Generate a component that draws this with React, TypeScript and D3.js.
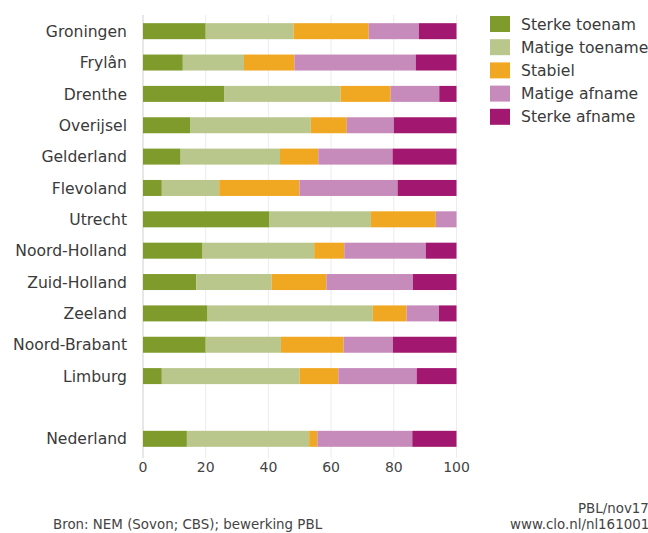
import React from "react";
import * as d3 from "d3";

const regions = [
  "Groningen", "Frylân", "Drenthe", "Overijsel", "Gelderland", "Flevoland",
  "Utrecht", "Noord-Holland", "Zuid-Holland", "Zeeland", "Noord-Brabant", "Limburg", "", "Nederland",
];
const seriesNames = ["Sterke toenam", "Matige toename", "Stabiel", "Matige afname", "Sterke afname"];
const colors = ["#7e9b2b", "#b9c68c", "#f0a823", "#c68abb", "#a2176f"];

const sterkeToename = [20, 12.7, 26, 15, 12, 6, 40.2, 19, 17, 20.6, 20, 6, 0, 14];
const matigeToename = [28, 19.5, 37, 38.5, 31.7, 18.3, 32.5, 35.6, 24, 52.7, 24, 43.9, 0, 39];
const stabiel = [24, 16.1, 16, 11.5, 12.2, 25.6, 20.7, 9.6, 17.5, 10.8, 20, 12.4, 0, 2.6];
const matigeAfname = [16, 38.7, 15.5, 15, 23.7, 31.3, 6.6, 26, 27.6, 10.3, 15.7, 25, 0, 30.3];
const sterkeAfname = [12, 13, 5.5, 20, 20.4, 18.8, 0, 9.8, 13.9, 5.6, 20.3, 12.7, 0, 14.1];
const ticks = [0, 20, 40, 60, 80, 100];

const W = 648, H = 533;
const FONT = "'DejaVu Sans', sans-serif";

export default function App() {
  const x = d3.scaleLinear().domain([0, 100]).range([143, 456.5]);
  const y = d3.scaleBand<number>().domain(regions.map((_, i) => i)).range([15.5, 454.5]).paddingInner(0.49).paddingOuter(0.245);
  const table = regions.map((r, i) => ({
    r,
    s0: sterkeToename[i], s1: matigeToename[i], s2: stabiel[i], s3: matigeAfname[i], s4: sterkeAfname[i],
  }));
  const stack = d3.stack<any>().keys(["s0", "s1", "s2", "s3", "s4"])(table);

  return (
    <svg width={W} height={H} style={{ position: "absolute", left: 0, top: 0, background: "#fff" }} fontFamily={FONT}>
      {ticks.map((t) => (
        <line key={t} x1={x(t)} x2={x(t)} y1={15} y2={458} stroke={t === 0 ? "#cfcfcf" : "#ececec"} strokeWidth={1} />
      ))}
      {stack.map((s, si) => (
        <g key={si} fill={colors[si]}>
          {s.map((d, i) =>
            regions[i] === "" || d[1] - d[0] <= 0 ? null : (
              <rect key={i} x={x(d[0])} y={y(i)} width={x(d[1]) - x(d[0])} height={y.bandwidth()} />
            )
          )}
        </g>
      ))}
      {regions.map((r, i) => (
        <text key={i} x={127} y={(y(i) as number) + y.bandwidth() / 2} dy="0.36em" textAnchor="end" fontSize={15.6} fill="#3a3a3a">
          {r}
        </text>
      ))}
      {ticks.map((t) => (
        <text key={t} x={x(t)} y={472} textAnchor="middle" fontSize={14} fill="#444">
          {t}
        </text>
      ))}
      {seriesNames.map((n, i) => (
        <g key={n}>
          <rect x={490} y={16 + i * 23.2} width={20} height={16} fill={colors[i]} />
          <text x={521} y={24 + i * 23.2} dy="0.36em" fontSize={15.6} fill="#3a3a3a">
            {n}
          </text>
        </g>
      ))}
      <text x={53} y={529} fontSize={13.4} fill="#444">Bron: NEM (Sovon; CBS); bewerking PBL</text>
      <text x={578} y={513} fontSize={13.4} fill="#444">PBL/nov17</text>
      <text x={510} y={529} fontSize={13.4} fill="#444">www.clo.nl/nl161001</text>
    </svg>
  );
}
